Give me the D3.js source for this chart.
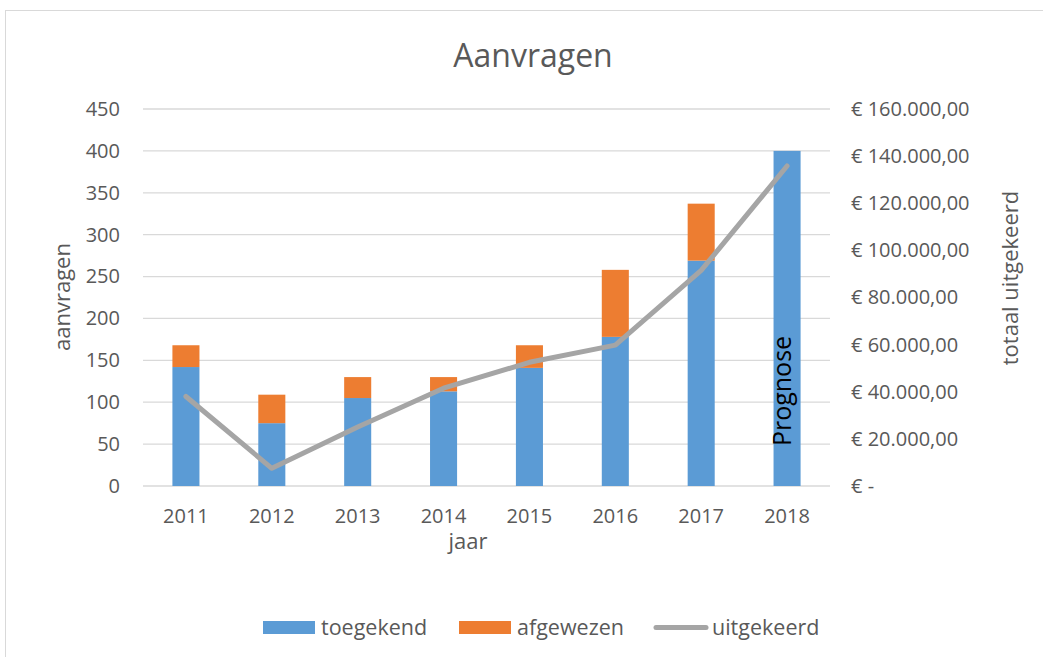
<!DOCTYPE html>
<html>
<head>
<meta charset="utf-8">
<script src="https://cdn.jsdelivr.net/npm/d3@7"></script>
<style>
  body { margin: 0; background: #fff; }
  text { font-family: "Open Sans", sans-serif; fill: #595959; }
</style>
</head>
<body>
<svg id="chart" width="1043" height="657"></svg>
<script>
const years = ['2011', '2012', '2013', '2014', '2015', '2016', '2017', '2018'];
const toegekend = [142, 75, 105, 113, 141, 178, 269, 400];
const afgewezen = [26, 34, 25, 17, 27, 80, 68, 0];
const uitgekeerd = [38000, 7500, 25000, 41500, 52500, 59800, 91500, 135800];
const leftTicks = [0, 50, 100, 150, 200, 250, 300, 350, 400, 450];
const rightTicks = [0, 20000, 40000, 60000, 80000, 100000, 120000, 140000, 160000];

const svg = d3.select('#chart');
const M = { left: 143, right: 830, top: 109, bottom: 486 };

// chart border
svg.append('rect').attr('x', 5.5).attr('y', 10.5).attr('width', 1060).attr('height', 680)
  .attr('fill', 'none').attr('stroke', '#d9d9d9');

const x = d3.scaleBand().domain(years).range([M.left, M.right]).paddingInner(0.685).paddingOuter(0.3425);
const y = d3.scaleLinear().domain([0, 450]).range([M.bottom, M.top]);
const y2 = d3.scaleLinear().domain([0, 160000]).range([M.bottom, M.top]);

// gridlines
svg.append('g').selectAll('line').data(leftTicks).enter().append('line')
  .attr('x1', M.left).attr('x2', M.right)
  .attr('y1', d => y(d)).attr('y2', d => y(d))
  .attr('stroke', '#d9d9d9').attr('stroke-width', 1.3);

const styleTicks = g => g.selectAll('text').style('font-size', '20px')
  .attr('fill', '#595959').style('font-family', '"Open Sans", sans-serif');

// left axis
const yAxis = svg.append('g').attr('transform', `translate(${M.left - 23},0)`)
  .call(d3.axisLeft(y).tickValues(leftTicks).tickSize(0).tickPadding(0));
yAxis.select('.domain').remove();
styleTicks(yAxis);

// right axis
const euro = d => d === 0 ? '€ -' : '€ ' + d3.format(',.2f')(d).replace(/,/g, '#').replace('.', ',').replace(/#/g, '.');
const yAxis2 = svg.append('g').attr('transform', `translate(${M.right + 21},0)`)
  .call(d3.axisRight(y2).tickValues(rightTicks).tickSize(0).tickPadding(0).tickFormat(euro));
yAxis2.select('.domain').remove();
styleTicks(yAxis2);

// x axis
const xAxis = svg.append('g').attr('transform', `translate(0,${M.bottom + 23})`)
  .call(d3.axisBottom(x).tickSize(0).tickPadding(0));
xAxis.select('.domain').remove();
styleTicks(xAxis);

// stacked bars
const stackData = years.map((yr, i) => ({ year: yr, toegekend: toegekend[i], afgewezen: afgewezen[i] }));
const series = d3.stack().keys(['toegekend', 'afgewezen'])(stackData);
const colors = { toegekend: '#5b9bd5', afgewezen: '#ed7d31' };
svg.append('g').selectAll('g').data(series).enter().append('g')
  .attr('fill', d => colors[d.key])
  .selectAll('rect').data(d => d).enter().append('rect')
  .attr('x', d => x(d.data.year)).attr('width', x.bandwidth())
  .attr('y', d => y(d[1])).attr('height', d => y(d[0]) - y(d[1]));

// line
const line = d3.line().x((d, i) => x(years[i]) + x.bandwidth() / 2).y(d => y2(d));
svg.append('path').datum(uitgekeerd).attr('d', line)
  .attr('fill', 'none').attr('stroke', '#a5a5a5').attr('stroke-width', 5)
  .attr('stroke-linecap', 'round').attr('stroke-linejoin', 'round');

// prognose label
const px = x('2018') + x.bandwidth() / 2 + 4;
svg.append('text').attr('transform', `translate(${px},${y(50) + 2}) rotate(-90)`)
  .style('font-size', '25px').style('fill', '#000').text('Prognose');

// title
svg.append('text').attr('x', 533).attr('y', 67).attr('text-anchor', 'middle')
  .style('font-size', '32px').text('Aanvragen');

// axis titles
svg.append('text').attr('transform', 'translate(70,297) rotate(-90)').attr('text-anchor', 'middle')
  .style('font-size', '22px').text('aanvragen');
svg.append('text').attr('transform', 'translate(1018,278) rotate(-90)').attr('text-anchor', 'middle')
  .style('font-size', '22px').text('totaal uitgekeerd');
svg.append('text').attr('x', 468).attr('y', 549).attr('text-anchor', 'middle')
  .style('font-size', '22px').text('jaar');

// legend
const legend = [
  { label: 'toegekend', type: 'rect', color: '#5b9bd5', x: 263, tx: 321 },
  { label: 'afgewezen', type: 'rect', color: '#ed7d31', x: 459, tx: 517 },
  { label: 'uitgekeerd', type: 'line', color: '#a5a5a5', x: 654, tx: 712 }
];
const lg = svg.append('g').selectAll('g').data(legend).enter().append('g');
lg.filter(d => d.type === 'rect').append('rect')
  .attr('x', d => d.x).attr('y', 621).attr('width', 52).attr('height', 13).attr('fill', d => d.color);
lg.filter(d => d.type === 'line').append('line')
  .attr('x1', d => d.x + 2).attr('x2', d => d.x + 52).attr('y1', 627.5).attr('y2', 627.5)
  .attr('stroke', d => d.color).attr('stroke-width', 5).attr('stroke-linecap', 'round');
lg.append('text').attr('x', d => d.tx).attr('y', 635).style('font-size', '21.5px').text(d => d.label);
</script>
</body>
</html>
